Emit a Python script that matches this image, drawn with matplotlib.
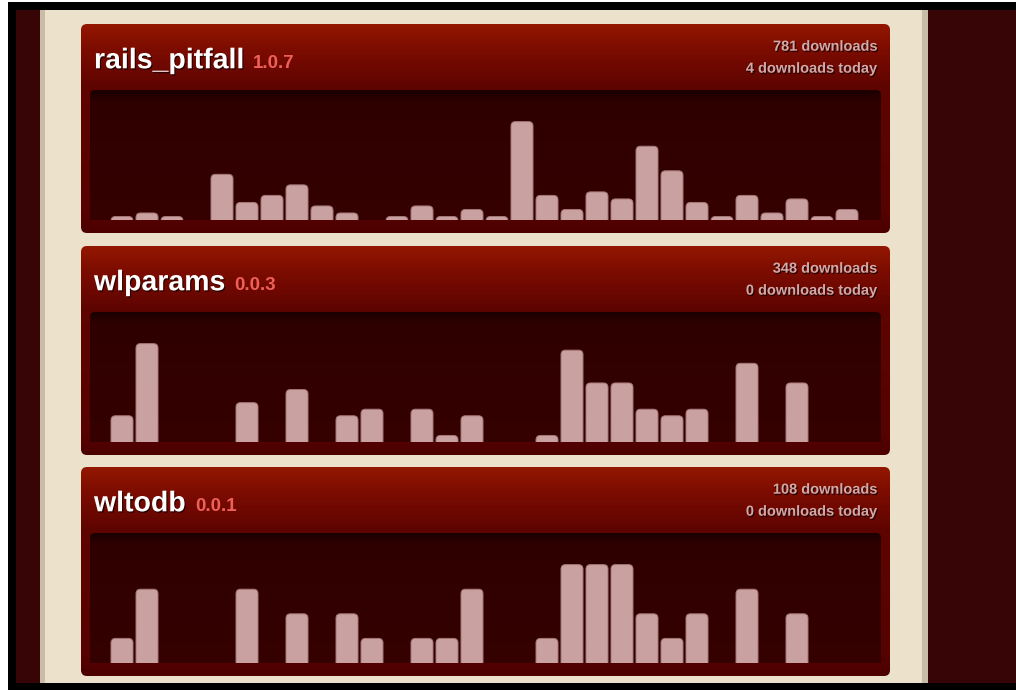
import matplotlib
matplotlib.use("Agg")
import matplotlib.pyplot as plt
import matplotlib.patheffects as pe
from matplotlib.patches import FancyBboxPatch, Rectangle
from matplotlib.colors import LinearSegmentedColormap
import numpy as np

plt.rcParams['font.family'] = ['Liberation Sans', 'DejaVu Sans']

# --- data ---
gems = ["rails_pitfall", "wlparams", "wltodb"]
versions = ["1.0.7", "0.0.3", "0.0.1"]
total_downloads = [781, 348, 108]
downloads_today = [4, 0, 0]
days = list(range(30))
daily_rails_pitfall = [1, 2, 1, 0, 13, 5, 7, 10, 4, 2, 0, 1, 4, 1, 3,
                       1, 28, 7, 3, 8, 6, 21, 14, 5, 1, 7, 2, 6, 1, 3]
daily_wlparams = [4, 15, 0, 0, 0, 6, 0, 8, 0, 4, 5, 0, 5, 1, 4,
                  0, 0, 1, 14, 9, 9, 5, 4, 5, 0, 12, 0, 9, 0, 0]
daily_wltodb = [1, 3, 0, 0, 0, 3, 0, 2, 0, 2, 1, 0, 1, 1, 3,
                0, 0, 1, 4, 4, 4, 2, 1, 2, 0, 3, 0, 2, 0, 0]
daily = [daily_rails_pitfall, daily_wlparams, daily_wltodb]

W, H = 1016, 690
fig = plt.figure(figsize=(W / 100, H / 100), dpi=100, facecolor='white')
bg = fig.add_axes([0, 0, 1, 1])
bg.set_xlim(0, W)
bg.set_ylim(H, 0)
bg.axis('off')

# page background
bg.add_patch(Rectangle((8, 2), W - 8, H - 2, color='black', lw=0))
bg.add_patch(Rectangle((16, 10), W - 16, 673, color='#370505', lw=0))
bg.add_patch(Rectangle((40, 10), 888, 673, color='#c9bda7', lw=0))
bg.add_patch(Rectangle((45, 10), 877, 673, color='#ece2cc', lw=0))

panel_cmap = LinearSegmentedColormap.from_list(
    'panel', [(0, '#931700'), (0.12, '#7c0c00'), (0.3, '#5e0400'),
              (0.9, '#560200'), (1, '#4c0000')])
inner_cmap = LinearSegmentedColormap.from_list(
    'inner', [(0, '#1c0000'), (0.08, '#2f0000'), (1, '#350000')])

panel_tops = [24, 246, 467]
bar_col = '#c9a1a1'
bar_edge = '#a47676'
shadow = pe.withSimplePatchShadow(offset=(0.8, -1), shadow_rgbFace='#220000', alpha=0.9)

renderer = fig.canvas.get_renderer()

for i, top in enumerate(panel_tops):
    # red panel with gradient header
    panel = FancyBboxPatch((81, top), 809, 209, boxstyle="round,pad=0,rounding_size=6",
                           lw=0, fc='none')
    bg.add_patch(panel)
    grad = np.linspace(0, 1, 209).reshape(-1, 1)
    im = bg.imshow(grad, cmap=panel_cmap, extent=(81, 890, top + 209, top),
                   aspect='auto', zorder=1)
    im.set_clip_path(panel)

    # dark chart box
    box = FancyBboxPatch((90, top + 66), 791, 140, boxstyle="round,pad=0,rounding_size=5",
                         lw=0, fc='none')
    bg.add_patch(box)
    g2 = np.linspace(0, 1, 130).reshape(-1, 1)
    im2 = bg.imshow(g2, cmap=inner_cmap, extent=(90, 881, top + 196, top + 66),
                    aspect='auto', zorder=2)
    im2.set_clip_path(box)

    # texts
    t = bg.text(94, top + 44.3, gems[i], color='white', fontsize=20.5, fontweight='bold',
                va='baseline', ha='left', zorder=5, path_effects=[shadow])
    bb = t.get_window_extent(renderer)
    x_end = bg.transData.inverted().transform((bb.x1, bb.y0))[0]
    bg.text(x_end + 9, top + 44.3, versions[i], color='#ee5f5a', fontsize=13.5,
            fontweight='bold', va='baseline', ha='left', zorder=5)
    bg.text(878, top + 26.7, f"{total_downloads[i]} downloads", color='#d2a9a9',
            fontsize=10.5, fontweight='bold', ha='right', va='baseline', zorder=5,
            path_effects=[shadow])
    bg.text(878, top + 48.7, f"{downloads_today[i]} downloads today", color='#d2a9a9',
            fontsize=10.5, fontweight='bold', ha='right', va='baseline', zorder=5,
            path_effects=[shadow])

    # bars
    vals = daily[i]
    ymax = max(vals) * 130 / 98.4
    ax = fig.add_axes([90 / W, 1 - (top + 196) / H, 791 / W, 130 / H])
    ax.set_facecolor('none')
    ax.axis('off')
    ax.set_xlim((90 - 122) / 25, (881 - 122) / 25)
    ax.set_ylim(0, ymax)
    bars = ax.bar(days, vals, width=0.88, color=bar_col)
    aspect = 25 * ymax / 130
    ext = 6 * ymax / 130
    for rect, v in zip(bars, vals):
        rect.set_visible(False)
        if v == 0:
            continue
        rb = FancyBboxPatch((rect.get_x(), -ext), rect.get_width(), rect.get_height() + ext,
                            boxstyle=f"round,pad=0,rounding_size={4.5 / 25}",
                            mutation_aspect=aspect, fc=bar_col, ec=bar_edge, lw=0.7)
        ax.add_patch(rb)

fig.savefig("out.png", dpi=100, facecolor=fig.get_facecolor())
